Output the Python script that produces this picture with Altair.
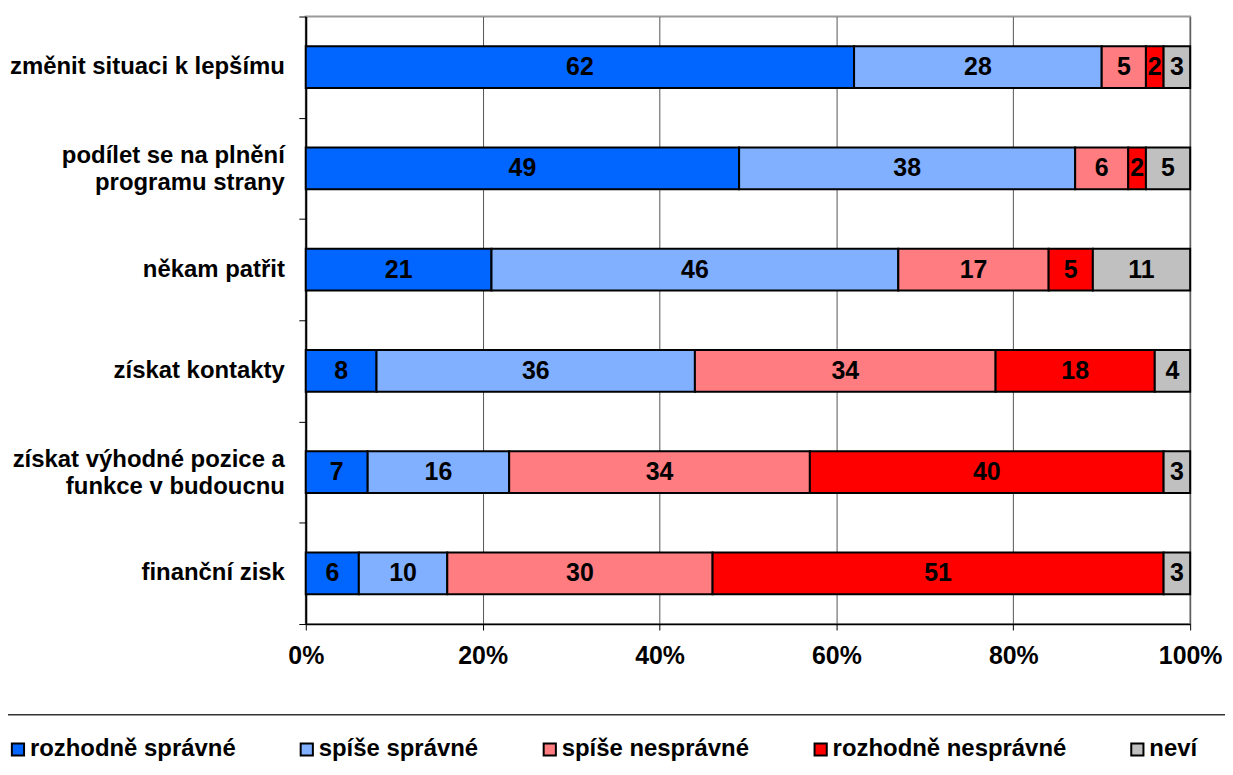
import altair as alt
import pandas as pd

categories = [
    "změnit situaci k lepšímu",
    "podílet se na plnění|programu strany",
    "někam patřit",
    "získat kontakty",
    "získat výhodné pozice a|funkce v budoucnu",
    "finanční zisk",
]
series = ["rozhodně správné", "spíše správné", "spíše nesprávné", "rozhodně nesprávné", "neví"]
colors = ["#0066FF", "#80B0FF", "#FF7C80", "#FF0000", "#C0C0C0"]

rozhodne_spravne = [62, 49, 21, 8, 7, 6]
spise_spravne = [28, 38, 46, 36, 16, 10]
spise_nespravne = [5, 6, 17, 34, 34, 30]
rozhodne_nespravne = [2, 2, 5, 18, 40, 51]
nevi = [3, 5, 11, 4, 3, 3]
x_ticks = [0, 0.2, 0.4, 0.6, 0.8, 1.0]

rows = []
for i, c in enumerate(categories):
    for j, (s, vals) in enumerate(zip(series, [rozhodne_spravne, spise_spravne, spise_nespravne, rozhodne_nespravne, nevi])):
        rows.append({"cat": c, "series": s, "ord": j, "value": vals[i]})
df = pd.DataFrame(rows)
cat_df = pd.DataFrame({"cat": categories})

FONT = "Liberation Sans"
W, H = 888, 610

base = alt.Chart(df).transform_stack(
    stack="value", groupby=["cat"], as_=["v0", "v1"],
    sort=[alt.SortField("ord", order="ascending")], offset="normalize"
).transform_calculate(mid="(datum.v0 + datum.v1) / 2")

y_enc = alt.Y(
    "cat:N", sort=categories, title=None,
    scale=alt.Scale(paddingInner=0, paddingOuter=0),
    axis=alt.Axis(
        labels=False,
        tickBand="extent", tickSize=7, tickColor="black", tickWidth=1,
        domainColor="black", domainWidth=2, grid=False,
    ),
)

bars = base.mark_bar(stroke="black", strokeWidth=2, height=alt.RelativeBandSize(0.413)).encode(
    y=y_enc,
    x=alt.X(
        "v0:Q", title=None, scale=alt.Scale(domain=[0, 1], nice=False),
        axis=alt.Axis(
            format="%", values=x_ticks, labelFont=FONT, labelFontSize=25,
            labelFontWeight="bold", labelColor="black", labelPadding=14,
            labelFlush=False, labelOverlap=False,
            tickSize=6, tickColor="black", tickWidth=1,
            domainColor="black", domainWidth=1.5,
            grid=True, gridColor="#555555", gridWidth=1,
        ),
    ),
    x2="v1:Q",
    color=alt.Color(
        "series:N", scale=alt.Scale(domain=series, range=colors),
        legend=alt.Legend(
            title=None, orient="none", legendX=-301, legendY=724,
            direction="horizontal", columns=5, columnPadding=59,
            symbolType="square", symbolSize=150, symbolStrokeColor="black",
            symbolStrokeWidth=2, labelFont=FONT, labelFontSize=24,
            labelFontWeight="bold", labelColor="black", labelOffset=0,
            labelLimit=400,
        ),
    ),
)

texts = base.mark_text(font=FONT, fontSize=25, fontWeight="bold", color="black").encode(
    y=alt.Y("cat:N", sort=categories),
    x=alt.X("mid:Q"),
    text="value:Q",
)

cat_base = alt.Chart(cat_df).transform_calculate(
    lines="split(datum.cat, '|')"
).transform_calculate(n="length(datum.lines)")

cat_single = cat_base.transform_filter("datum.n == 1").mark_text(
    font=FONT, fontSize=24, fontWeight="bold", color="black", align="right",
    baseline="middle", lineHeight=27,
).encode(y=alt.Y("cat:N", sort=categories), x=alt.value(-21), text="lines:N")

cat_multi = cat_base.transform_filter("datum.n > 1").mark_text(
    font=FONT, fontSize=24, fontWeight="bold", color="black", align="right",
    baseline="line-bottom", lineHeight=27, dy=2,
).encode(y=alt.Y("cat:N", sort=categories), x=alt.value(-21), text="lines:N")

rule = alt.Chart(pd.DataFrame({"a": [0]})).mark_rule(color="#333333", strokeWidth=1.5).encode(
    x=alt.value(-299), x2=alt.value(W + 35), y=alt.value(701)
)

chart = alt.layer(bars, texts, cat_single, cat_multi, rule).properties(
    width=W, height=H,
    padding={"left": 299, "top": 7, "right": 35, "bottom": 140},
    autosize=alt.AutoSizeParams(type="none"),
).configure_view(stroke="#999999", strokeWidth=2)

chart.save("out.html", embed_options={"renderer": "svg", "actions": False})
